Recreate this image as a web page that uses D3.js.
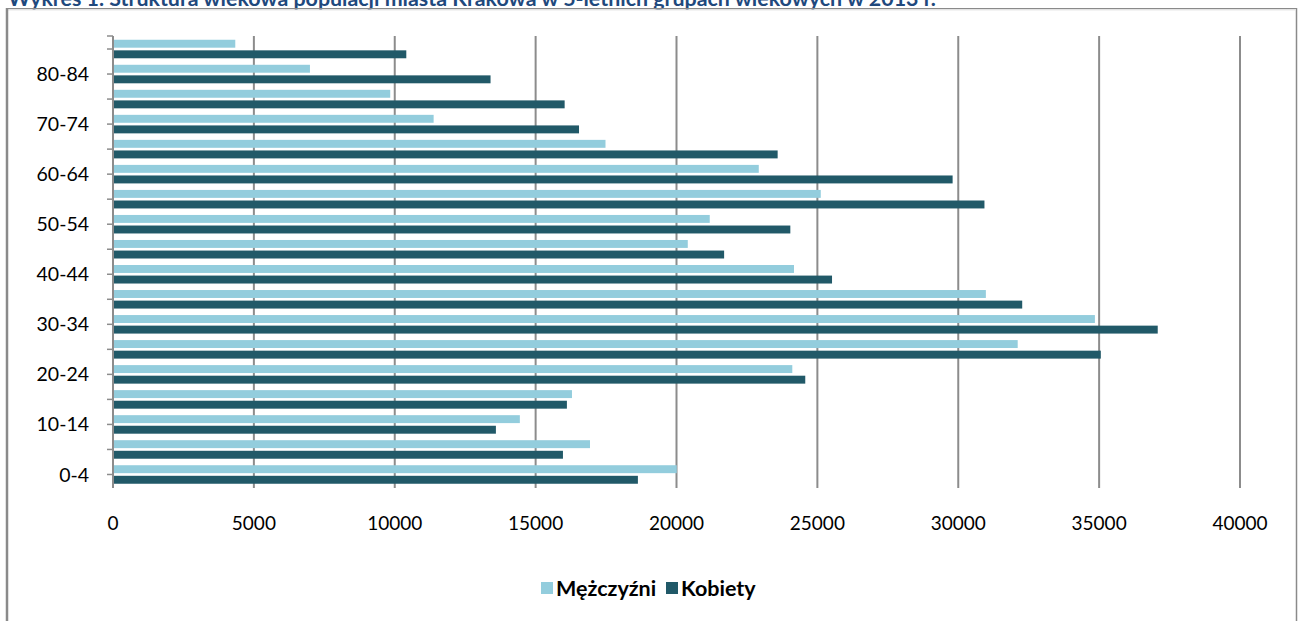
<!DOCTYPE html>
<html lang="pl">
<head>
<meta charset="utf-8">
<script src="https://cdn.jsdelivr.net/npm/d3@7"></script>
<style>
  html, body { margin: 0; padding: 0; background: #fff; }
  svg { display: block; }
</style>
</head>
<body>
<svg id="chart" width="1298" height="621"></svg>
<script>
// Age groups (5-year bands), youngest first
const ageGroups = ["0-4", "5-9", "10-14", "15-19", "20-24", "25-29", "30-34", "35-39", "40-44",
                   "45-49", "50-54", "55-59", "60-64", "65-69", "70-74", "75-79", "80-84", "85+"];
// Population counts per age group
const men   = [20010, 16930, 14440, 16290, 24110, 32110, 34850, 30980, 24170,
               20400, 21180, 25120, 22920, 17480, 11380, 9840, 6990, 4340];
const women = [18630, 15970, 13590, 16110, 24570, 35060, 37080, 32270, 25520,
               21690, 24040, 30930, 29800, 23590, 16540, 16030, 13400, 10410];
const seriesNames = ["Mężczyźni", "Kobiety"];
const seriesColors = ["#93CDDD", "#215968"];
const xTicks = [0, 5000, 10000, 15000, 20000, 25000, 30000, 35000, 40000];
const titleText = "Wykres 1. Struktura wiekowa populacji miasta Krakowa w 5-letnich grupach wiekowych w 2013 r.";

const svg = d3.select("#chart");
const font = "Lato, 'Open Sans', sans-serif";

const rows = ageGroups.map((g, i) => ({ group: g, values: [men[i], women[i]] }));

const plot = { left: 113, right: 1240, top: 36.5, bottom: 487 };

const x = d3.scaleLinear().domain([0, 40000]).range([plot.left, plot.right]);
const y0 = d3.scaleBand()
  .domain(ageGroups.slice().reverse())
  .range([plot.top, plot.bottom])
  .paddingInner(0.26)
  .paddingOuter(0.13);
const y1 = d3.scaleBand()
  .domain(d3.range(seriesNames.length))
  .range([0, y0.bandwidth()])
  .paddingInner(0.25);

// Title (runs above the top of the page)
svg.append("text")
  .attr("x", 8).attr("y", 5.5)
  .attr("font-family", font).attr("font-weight", 700).attr("font-size", 21.4)
  .attr("fill", "#1F497D")
  .text(titleText);

// Chart frame
svg.append("line").attr("x1", 6).attr("x2", 1297).attr("y1", 8.5).attr("y2", 8.5)
  .attr("stroke", "#8a8a8a").attr("stroke-width", 1.2);
svg.append("line").attr("x1", 8).attr("x2", 1295).attr("y1", 9.8).attr("y2", 9.8)
  .attr("stroke", "#d8d8d8").attr("stroke-width", 1);
svg.append("line").attr("x1", 7).attr("x2", 7).attr("y1", 8).attr("y2", 621)
  .attr("stroke", "#8a8a8a").attr("stroke-width", 2.5);
svg.append("line").attr("x1", 1296.5).attr("x2", 1296.5).attr("y1", 8).attr("y2", 621)
  .attr("stroke", "#8a8a8a").attr("stroke-width", 1.5);

// Vertical gridlines
svg.append("g")
  .selectAll("line")
  .data(xTicks.filter(d => d > 0))
  .join("line")
  .attr("x1", d => x(d)).attr("x2", d => x(d))
  .attr("y1", 36).attr("y2", 488)
  .attr("stroke", "#8c8c8c").attr("stroke-width", 2);

// Bars
const groups = svg.append("g")
  .selectAll("g")
  .data(rows)
  .join("g")
  .attr("transform", d => `translate(0,${y0(d.group)})`);

groups.selectAll("rect")
  .data(d => d.values.map((v, k) => ({ k, v })))
  .join("rect")
  .attr("x", x(0))
  .attr("y", d => y1(d.k))
  .attr("width", d => x(d.v) - x(0))
  .attr("height", y1.bandwidth())
  .attr("fill", d => seriesColors[d.k]);

// Category axis
const yAxisG = svg.append("g");
yAxisG.append("line")
  .attr("x1", x(0)).attr("x2", x(0)).attr("y1", 36).attr("y2", 488)
  .attr("stroke", "#8c8c8c").attr("stroke-width", 2);
const tickYs = [36].concat(ageGroups.map(g => y0(g) + y0.bandwidth() / 2));
yAxisG.selectAll("line.tick")
  .data(tickYs)
  .join("line")
  .attr("class", "tick")
  .attr("x1", x(0) - 6).attr("x2", x(0))
  .attr("y1", d => d).attr("y2", d => d)
  .attr("stroke", "#8c8c8c").attr("stroke-width", 1.5);
yAxisG.selectAll("text")
  .data(ageGroups.filter((g, i) => i % 2 === 0))
  .join("text")
  .attr("x", 89)
  .attr("y", d => y0(d) + y0.bandwidth() / 2)
  .attr("dy", "0.36em")
  .attr("text-anchor", "end")
  .attr("font-family", font).attr("font-size", 19.5)
  .attr("fill", "#000")
  .text(d => d);

// Value axis labels
svg.append("g")
  .selectAll("text")
  .data(xTicks)
  .join("text")
  .attr("x", d => x(d))
  .attr("y", 523)
  .attr("dy", "0.36em")
  .attr("text-anchor", "middle")
  .attr("font-family", font).attr("font-size", 19)
  .attr("fill", "#000")
  .text(d => d);

// Legend
const legend = svg.append("g").attr("transform", "translate(0,588)");
const legendX = [541, 666];
seriesNames.forEach((name, k) => {
  legend.append("rect")
    .attr("x", legendX[k]).attr("y", -6)
    .attr("width", 12).attr("height", 12)
    .attr("fill", seriesColors[k]);
  legend.append("text")
    .attr("x", legendX[k] + 15).attr("y", 0)
    .attr("dy", "0.36em")
    .attr("font-family", font).attr("font-weight", 700).attr("font-size", 21.5)
    .attr("fill", "#000")
    .text(name);
});
</script>
</body>
</html>
